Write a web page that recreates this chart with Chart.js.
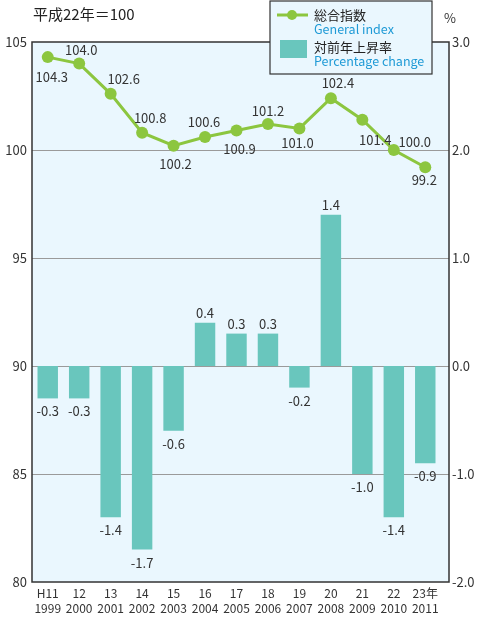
<!DOCTYPE html>
<html>
<head>
<meta charset="utf-8">
<script src="https://cdn.jsdelivr.net/npm/chart.js@4"></script>
<style>
  html, body { margin: 0; padding: 0; background: #fff; }
  #wrap { position: relative; width: 488px; height: 619px; }
  #title { position: absolute; left: 33px; top: 3px; font: 15px "Noto Sans CJK JP", sans-serif; color: #222; }
  #pct { position: absolute; left: 444px; top: 8px; font: 13px "Noto Sans CJK JP", sans-serif; color: #333; }
</style>
</head>
<body>
<div id="wrap">
  <canvas id="myChart" width="488" height="619"></canvas>
  <div id="title">平成22年＝100</div>
  <div id="pct">%</div>
</div>
<script>
// data
var eraLabels = ['H11', '12', '13', '14', '15', '16', '17', '18', '19', '20', '21', '22', '23年'];
var yearLabels = ['1999', '2000', '2001', '2002', '2003', '2004', '2005', '2006', '2007', '2008', '2009', '2010', '2011'];
var generalIndex = [104.3, 104.0, 102.6, 100.8, 100.2, 100.6, 100.9, 101.2, 101.0, 102.4, 101.4, 100.0, 99.2];
var pctChange = [-0.3, -0.3, -1.4, -1.7, -0.6, 0.4, 0.3, 0.3, -0.2, 1.4, -1.0, -1.4, -0.9];

var FONT = '"Noto Sans CJK JP", "Noto Sans", sans-serif';
var GREEN = '#8cc63f';
var TEAL = '#69c6bd';
var PLOT_RIGHT = 449; // frame goes a bit past the last category

// label offsets for the line points (style only)
var lblDx = [4, 2, 13, 8, 2, -1, 3, 0, -2, 7, 13, 21, -1];
var lblDy = [20, -14, -15, -15, 18, -15, 19, -13, 15, -15, 20, -8, 13];

var bgPlugin = {
    id: 'bgPlugin',
    beforeDatasetsDraw: function (chart) {
        var a = chart.chartArea, c = chart.ctx;
        c.save();
        c.fillStyle = '#eaf7fe';
        c.fillRect(a.left, a.top, PLOT_RIGHT - a.left, a.bottom - a.top);
        // gridlines
        var ys = chart.scales.y;
        c.strokeStyle = '#9a9a9a';
        c.lineWidth = 1;
        [85, 90, 95, 100].forEach(function (v) {
            var y = Math.round(ys.getPixelForValue(v)) + 0.5;
            c.beginPath();
            c.moveTo(a.left, y);
            c.lineTo(PLOT_RIGHT, y);
            c.stroke();
        });
        c.restore();
    },
    afterDatasetsDraw: function (chart) {
        var a = chart.chartArea, c = chart.ctx;
        c.save();
        c.strokeStyle = '#333';
        c.lineWidth = 1.5;
        c.strokeRect(a.left, a.top, PLOT_RIGHT - a.left, a.bottom - a.top);
        c.restore();

        // value labels
        c.save();
        c.font = '13px ' + FONT;
        c.fillStyle = '#333';
        c.textAlign = 'center';
        c.textBaseline = 'middle';
        var barMeta = chart.getDatasetMeta(0);
        barMeta.data.forEach(function (bar, i) {
            var v = pctChange[i];
            var y = v >= 0 ? bar.y - 10 : bar.y + 13;
            c.fillText(v.toFixed(1), bar.x, y);
        });
        var lineMeta = chart.getDatasetMeta(1);
        lineMeta.data.forEach(function (pt, i) {
            c.fillText(generalIndex[i].toFixed(1), pt.x + lblDx[i], pt.y + lblDy[i]);
        });
        c.restore();
    },
    afterDraw: function (chart) {
        // legend box
        var c = chart.ctx;
        c.save();
        c.fillStyle = '#eaf7fe';
        c.strokeStyle = '#333';
        c.lineWidth = 1.2;
        c.fillRect(270, 1, 162, 73);
        c.strokeRect(270, 1, 162, 73);

        c.strokeStyle = GREEN;
        c.lineWidth = 3;
        c.beginPath();
        c.moveTo(277, 15);
        c.lineTo(308, 15);
        c.stroke();
        c.fillStyle = GREEN;
        c.beginPath();
        c.arc(292, 15, 5, 0, Math.PI * 2);
        c.fill();

        c.fillStyle = TEAL;
        c.fillRect(280, 40, 27, 18);

        c.textAlign = 'left';
        c.textBaseline = 'middle';
        c.font = '13px ' + FONT;
        c.fillStyle = '#222';
        c.fillText('総合指数', 314, 15);
        c.fillText('対前年上昇率', 314, 47);
        c.font = '12.5px ' + FONT;
        c.fillStyle = '#1e9ad6';
        c.fillText('General index', 314, 29);
        c.fillText('Percentage change', 314, 61);
        c.restore();
    }
};

var ctx = document.getElementById('myChart');
var labels = eraLabels.map(function (e, i) { return [e, yearLabels[i]]; });

var myChart = new Chart(ctx, {
    type: 'bar',
    data: {
        labels: labels,
        datasets: [{
            type: 'bar',
            label: '対前年上昇率',
            data: pctChange,
            yAxisID: 'y2',
            backgroundColor: TEAL,
            borderWidth: 0,
            barPercentage: 0.65,
            categoryPercentage: 1,
            order: 2
        }, {
            type: 'line',
            label: '総合指数',
            data: generalIndex,
            yAxisID: 'y',
            borderColor: GREEN,
            backgroundColor: GREEN,
            borderWidth: 3,
            pointRadius: 6,
            pointBackgroundColor: GREEN,
            pointBorderWidth: 0,
            tension: 0,
            order: 1
        }]
    },
    options: {
        responsive: false,
        animation: false,
        layout: { padding: { top: 42 } },
        plugins: {
            legend: { display: false },
            tooltip: { enabled: false }
        },
        scales: {
            x: {
                grid: { display: false, drawTicks: false },
                border: { display: false },
                ticks: {
                    color: '#333',
                    font: { family: FONT, size: 12, lineHeight: 1.25 },
                    padding: 4,
                    maxRotation: 0,
                    autoSkip: false
                },
                afterFit: function (s) { s.height = 37; }
            },
            y: {
                position: 'left',
                min: 80,
                max: 105,
                grid: { display: false, drawTicks: false },
                border: { display: false },
                ticks: {
                    stepSize: 5,
                    color: '#333',
                    font: { family: FONT, size: 13 },
                    padding: 5
                },
                afterFit: function (s) { s.width = 32; }
            },
            y2: {
                position: 'right',
                min: -2,
                max: 3,
                grid: { display: false, drawTicks: false },
                border: { display: false },
                ticks: {
                    stepSize: 1,
                    color: '#333',
                    font: { family: FONT, size: 13 },
                    padding: 11,
                    callback: function (v) { return v.toFixed(1); }
                },
                afterFit: function (s) { s.width = 47; }
            }
        }
    },
    plugins: [bgPlugin]
});
</script>
</body>
</html>
